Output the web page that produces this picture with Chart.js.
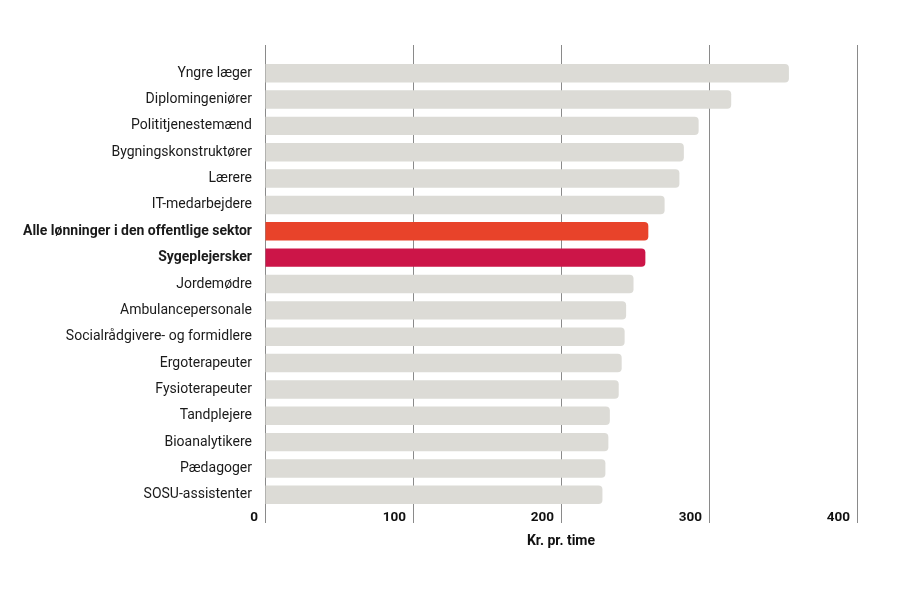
<!DOCTYPE html>
<html>
<head>
<meta charset="utf-8">
<script src="https://cdn.jsdelivr.net/npm/chart.js@4/dist/chart.umd.min.js"></script>
<style>
  html, body { margin: 0; padding: 0; background: #fff; }
  #wrap { width: 900px; height: 600px; }
</style>
</head>
<body>
<div id="wrap"><canvas id="bar-chart"></canvas></div>
<script>
// data
const categories = [
  'Yngre læger', 'Diplomingeniører', 'Polititjenestemænd', 'Bygningskonstruktører',
  'Lærere', 'IT-medarbejdere', 'Alle lønninger i den offentlige sektor', 'Sygeplejersker',
  'Jordemødre', 'Ambulancepersonale', 'Socialrådgivere- og formidlere', 'Ergoterapeuter',
  'Fysioterapeuter', 'Tandplejere', 'Bioanalytikere', 'Pædagoger', 'SOSU-assistenter'
];
const wages = [354, 315, 293, 283, 280, 270, 259, 257, 249, 244, 243, 241, 239, 233, 232, 230, 228];
const highlighted = ['Alle lønninger i den offentlige sektor', 'Sygeplejersker'];
const axisTicks = [0, 100, 200, 300, 400];

const GRID = '#8a8a8a';

// bar colours: grey, except the two highlighted rows
const barColors = categories.map(c => {
  if (c === highlighted[0]) return '#e8432a';
  if (c === highlighted[1]) return '#cc1548';
  return '#dcdbd6';
});

// the grid lines stick out a little above the plot area
const gridTop = {
  id: 'gridTop',
  afterDatasetsDraw(chart) {
    const { ctx, chartArea, scales } = chart;
    ctx.save();
    ctx.strokeStyle = GRID;
    ctx.lineWidth = 1;
    axisTicks.forEach(v => {
      const x = Math.round(scales.x.getPixelForValue(v)) + 0.5;
      ctx.beginPath();
      ctx.moveTo(x, chartArea.top - 15);
      ctx.lineTo(x, chartArea.top);
      ctx.stroke();
    });
    ctx.restore();
  }
};

const ctx = document.getElementById('bar-chart').getContext('2d');

new Chart(ctx, {
  type: 'bar',
  data: {
    labels: categories,
    datasets: [{
      data: wages,
      backgroundColor: barColors,
      borderRadius: 4,
      borderSkipped: 'start',
      barPercentage: 0.7,
      categoryPercentage: 1
    }]
  },
  options: {
    indexAxis: 'y',
    responsive: true,
    maintainAspectRatio: false,
    animation: false,
    layout: { padding: { top: 60, right: 43, bottom: 0, left: 0 } },
    plugins: {
      legend: { display: false },
      tooltip: { enabled: false }
    },
    scales: {
      x: {
        min: 0,
        max: 400,
        z: 1,
        afterBuildTicks: scale => { scale.ticks = axisTicks.map(v => ({ value: v })); },
        afterFit: scale => { scale.height = 92; },
        border: { display: false },
        grid: { color: GRID, lineWidth: 1, drawTicks: true, tickLength: 15, tickColor: GRID },
        ticks: {
          align: 'end',
          labelOffset: -7,
          padding: -13,
          color: '#111',
          font: { family: 'Roboto', size: 13.5, weight: 'bold' }
        },
        title: {
          display: true,
          text: 'Kr. pr. time',
          color: '#111',
          font: { family: 'Roboto', size: 14, weight: 'bold' },
          padding: { top: 0, bottom: 50 }
        }
      },
      y: {
        afterFit: scale => { scale.width = 265; },
        border: { display: false },
        grid: { display: false, drawTicks: false },
        ticks: {
          padding: 13,
          color: '#1a1a1a',
          font: ctx => ({
            family: 'Roboto',
            size: 14,
            weight: highlighted.includes(categories[ctx.index]) ? 'bold' : 'normal'
          })
        }
      }
    }
  },
  plugins: [gridTop]
});
</script>
</body>
</html>
